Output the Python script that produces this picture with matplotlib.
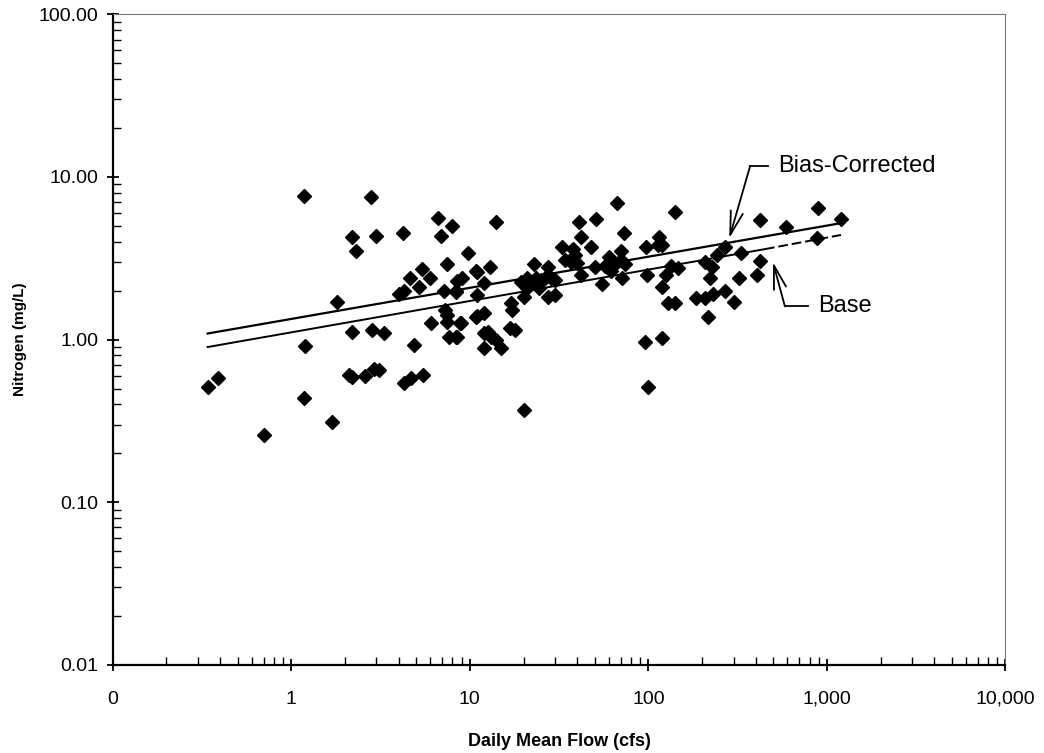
import numpy as np
import matplotlib.pyplot as plt
from matplotlib.ticker import FixedLocator, FuncFormatter, LogLocator, NullFormatter

# observed samples: daily mean flow (cfs) vs nitrogen (mg/L)
flow = [1.18, 2.8, 6.6, 7.9, 2.2, 3.0, 4.2, 6.9, 2.3, 9.8,
        7.5, 5.4, 4.6, 6.0, 5.2, 4.0, 4.3, 7.2, 8.4, 9.0,
        8.5, 10.9, 1.8, 7.3, 7.5, 7.5, 6.05, 8.8, 10.9, 2.2,
        2.85, 3.3, 4.9, 1.2, 7.6, 8.5, 2.1, 2.2, 2.6, 2.9,
        3.1, 4.3, 4.7, 5.5, 0.34, 0.39, 1.18, 1.7, 0.70,
        14, 67, 141, 891, 1197, 423, 590, 880, 269, 331,
        243, 208, 226, 423, 222, 322, 406, 269, 300, 185,
        208, 230, 216, 129, 141, 120, 126, 134, 147, 97.5,
        115, 120, 113, 98.5, 96, 120, 99, 20, 41, 51,
        73, 42, 33, 38, 48, 39, 34, 37, 40, 42,
        50, 60, 70, 65, 57, 70, 74, 62, 55, 71,
        23, 21, 19.4, 21.8, 23.5, 26.5, 25, 28.5, 30, 21,
        20, 24.5, 27.5, 30, 27.5, 17, 17.2, 16.8, 18, 12,
        11, 8.9, 8.4, 12, 12.6, 13.2, 14, 12, 15, 11,
        13, 12, 11, 8.4]
nitrogen = [7.6, 7.5, 5.6, 5.0, 4.3, 4.35, 4.5, 4.35, 3.5, 3.4,
            2.9, 2.7, 2.4, 2.4, 2.1, 1.9, 2.0, 2.0, 1.97, 2.4,
            2.3, 2.65, 1.71, 1.53, 1.42, 1.29, 1.27, 1.27, 1.38, 1.12,
            1.14, 1.10, 0.92, 0.91, 1.04, 1.04, 0.61, 0.59, 0.60, 0.66,
            0.65, 0.54, 0.58, 0.61, 0.51, 0.58, 0.44, 0.31, 0.26,
            5.3, 6.9, 6.1, 6.4, 5.5, 5.4, 4.9, 4.2, 3.7, 3.4,
            3.3, 3.0, 2.8, 3.05, 2.4, 2.4, 2.5, 2.0, 1.71, 1.79,
            1.79, 1.92, 1.38, 1.69, 1.69, 2.1, 2.5, 2.85, 2.77, 3.7,
            4.3, 3.8, 3.8, 2.5, 0.97, 1.03, 0.51, 0.37, 5.3, 5.5,
            4.5, 4.3, 3.7, 3.6, 3.7, 3.3, 3.1, 3.0, 2.96, 2.5,
            2.8, 3.2, 3.5, 2.9, 2.85, 3.1, 2.9, 2.65, 2.2, 2.4,
            2.9, 2.4, 2.27, 2.24, 2.4, 2.4, 2.33, 2.4, 2.33, 2.08,
            1.84, 2.08, 1.84, 1.89, 2.8, 1.69, 1.53, 1.18, 1.14, 1.46,
            1.40, 1.27, 1.04, 1.10, 1.12, 1.04, 1.0, 0.89, 0.89, 2.6,
            2.8, 2.24, 1.89, 2.0]

# regression lines
bias_x = [0.34, 1200]
bias_y = [1.09, 5.2]
base_x_solid = [0.34, 450]
base_y_solid = [0.90, 3.6]
base_x_dash = [450, 1200]
base_y_dash = [3.6, 4.4]

xticks = [0.1, 1, 10, 100, 1000, 10000]
xlabels = ['0', '1', '10', '100', '1,000', '10,000']
yticks = [0.01, 0.1, 1, 10, 100]

plt.rcParams['font.family'] = ['Liberation Sans', 'DejaVu Sans']

fig = plt.figure(figsize=(10.44, 7.53), dpi=100)
ax = fig.add_axes([0.108, 0.117, 0.855, 0.864])

ax.plot(bias_x, bias_y, color='black', lw=1.6)
ax.plot(base_x_solid, base_y_solid, color='black', lw=1.4)
ax.plot(base_x_dash, base_y_dash, color='black', lw=1.4, ls=(0, (5, 2)))
ax.plot(flow, nitrogen, ls='none', marker='D', color='black', markersize=7.5)

ax.set_xscale('log')
ax.set_yscale('log')
ax.set_xlim(0.1, 10000)
ax.set_ylim(0.01, 100)

ax.xaxis.set_major_locator(FixedLocator(xticks))
ax.xaxis.set_major_formatter(FuncFormatter(lambda v, p: xlabels[xticks.index(v)] if v in xticks else ''))
ax.xaxis.set_minor_locator(LogLocator(base=10, subs=np.arange(2, 10)))
ax.xaxis.set_minor_formatter(NullFormatter())
ax.yaxis.set_major_locator(FixedLocator(yticks))
ax.yaxis.set_major_formatter(FuncFormatter(lambda v, p: '%.2f' % v))
ax.yaxis.set_minor_locator(LogLocator(base=10, subs=np.arange(2, 10)))
ax.yaxis.set_minor_formatter(NullFormatter())

ax.tick_params(which='major', direction='inout', length=9, width=1.3, pad=14)
ax.tick_params(which='minor', direction='in', length=6, width=1.0)
ax.tick_params(axis='y', which='major', labelsize=14, pad=6)
ax.tick_params(axis='x', which='major', labelsize=14)

for side in ['left', 'bottom']:
    ax.spines[side].set_linewidth(1.6)
for side in ['top', 'right']:
    ax.spines[side].set_linewidth(0.8)
    ax.spines[side].set_color('#777777')

ax.set_xlabel('Daily Mean Flow (cfs)', fontsize=13, fontweight='bold', labelpad=18)
ax.set_ylabel('Nitrogen (mg/L)', fontsize=11, fontweight='bold', labelpad=8)

# leader annotations
arrow = dict(arrowstyle='->,head_length=1.7,head_width=0.45', color='black', lw=1.3,
             shrinkA=0, shrinkB=0)
ax.plot([372, 468], [11.7, 11.7], color='black', lw=1.3)
ax.annotate('', xy=(284, 4.2), xytext=(372, 11.7), arrowprops=arrow)
ax.text(532, 11.7, 'Bias-Corrected', fontsize=17, va='center', ha='left')

ax.plot([582, 783], [1.6, 1.6], color='black', lw=1.3)
ax.annotate('', xy=(499, 3.0), xytext=(582, 1.6), arrowprops=arrow)
ax.text(891, 1.6, 'Base', fontsize=17, va='center', ha='left')

fig.savefig('out.png', dpi=100)
